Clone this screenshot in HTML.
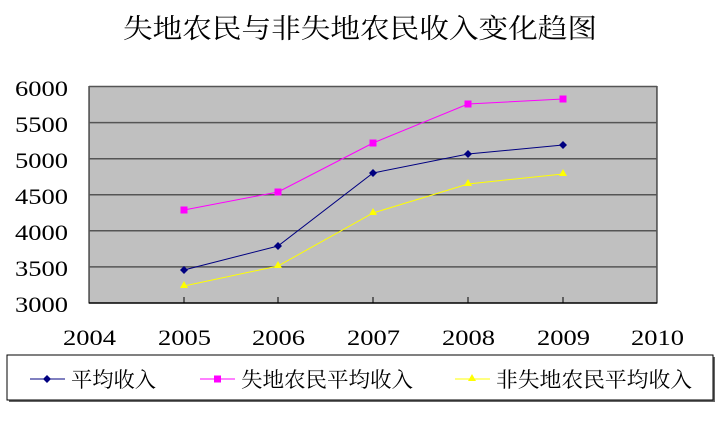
<!DOCTYPE html>
<html><head><meta charset="utf-8"><style>
body{margin:0;background:#fff;width:719px;height:417px;overflow:hidden}
text{font-family:"Liberation Serif","Noto Serif CJK SC",serif;fill:#000}
</style></head><body>
<svg width="719" height="417" xmlns="http://www.w3.org/2000/svg">
<text x="123" y="38" font-size="27" textLength="474" lengthAdjust="spacingAndGlyphs">失地农民与非失地农民收入变化趋图</text>
<rect x="89" y="86.5" width="568" height="216.5" fill="#c0c0c0" stroke="#000" stroke-width="1"/>
<g stroke="#555" stroke-width="1.5">
<line x1="89" x2="657" y1="86.5" y2="86.5"/>
<line x1="89" x2="657" y1="122.6" y2="122.6"/>
<line x1="89" x2="657" y1="158.7" y2="158.7"/>
<line x1="89" x2="657" y1="194.8" y2="194.8"/>
<line x1="89" x2="657" y1="230.8" y2="230.8"/>
<line x1="89" x2="657" y1="266.9" y2="266.9"/>
</g>
<line x1="89" x2="657" y1="303" y2="303" stroke="#000" stroke-width="1.5"/>
<g stroke="#000"><line x1="184" x2="184" y1="297" y2="303"/><line x1="278" x2="278" y1="297" y2="303"/><line x1="373" x2="373" y1="297" y2="303"/><line x1="468" x2="468" y1="297" y2="303"/><line x1="563" x2="563" y1="297" y2="303"/></g>
<g font-size="22">
<text x="15" y="96" textLength="53" lengthAdjust="spacingAndGlyphs">6000</text><text x="15" y="132" textLength="53" lengthAdjust="spacingAndGlyphs">5500</text><text x="15" y="168" textLength="53" lengthAdjust="spacingAndGlyphs">5000</text><text x="15" y="204" textLength="53" lengthAdjust="spacingAndGlyphs">4500</text><text x="15" y="240" textLength="53" lengthAdjust="spacingAndGlyphs">4000</text><text x="15" y="276" textLength="53" lengthAdjust="spacingAndGlyphs">3500</text><text x="15" y="312" textLength="53" lengthAdjust="spacingAndGlyphs">3000</text>
<text x="63" y="345" textLength="53" lengthAdjust="spacingAndGlyphs">2004</text><text x="158" y="345" textLength="53" lengthAdjust="spacingAndGlyphs">2005</text><text x="252" y="345" textLength="53" lengthAdjust="spacingAndGlyphs">2006</text><text x="347" y="345" textLength="53" lengthAdjust="spacingAndGlyphs">2007</text><text x="442" y="345" textLength="53" lengthAdjust="spacingAndGlyphs">2008</text><text x="537" y="345" textLength="53" lengthAdjust="spacingAndGlyphs">2009</text><text x="631" y="345" textLength="53" lengthAdjust="spacingAndGlyphs">2010</text>
</g>
<polyline fill="none" stroke="#ff00ff" points="184,210 278,192 373,143 468,104 563,99"/>
<polyline fill="none" stroke="#000080" points="184,270 278,246 373,173 468,154 563,145"/>
<polyline fill="none" stroke="#ffff00" points="184,286 278,266 373,213 468,184 563,174"/>
<g fill="#ff00ff"><rect x="180.5" y="206.5" width="7" height="7"/><rect x="274.5" y="188.5" width="7" height="7"/><rect x="369.5" y="139.5" width="7" height="7"/><rect x="464.5" y="100.5" width="7" height="7"/><rect x="559.5" y="95.5" width="7" height="7"/></g>
<g fill="#000080"><path d="M184,266l4,4-4,4-4-4z"/><path d="M278,242l4,4-4,4-4-4z"/><path d="M373,169l4,4-4,4-4-4z"/><path d="M468,150l4,4-4,4-4-4z"/><path d="M563,141l4,4-4,4-4-4z"/></g>
<g fill="#ffff00"><path d="M184,281l4,7h-8z"/><path d="M278,261l4,7h-8z"/><path d="M373,208l4,7h-8z"/><path d="M468,179l4,7h-8z"/><path d="M563,169l4,7h-8z"/></g>
<rect x="9" y="357" width="706" height="45" fill="#666"/>
<rect x="7" y="355" width="706" height="45" fill="#fff" stroke="#000"/>
<g font-size="21">
<line x1="30" x2="65" y1="379" y2="379" stroke="#000080"/><path d="M47,375l4,4-4,4-4-4z" fill="#000080"/>
<text x="71" y="387" textLength="85" lengthAdjust="spacingAndGlyphs">平均收入</text>
<line x1="200" x2="235" y1="379" y2="379" stroke="#ff00ff"/><rect x="214" y="375.5" width="7" height="7" fill="#ff00ff"/>
<text x="241" y="387" textLength="172" lengthAdjust="spacingAndGlyphs">失地农民平均收入</text>
<line x1="455" x2="490" y1="379" y2="379" stroke="#ffff00"/><path d="M472,374l4,7h-8z" fill="#ffff00"/>
<text x="496" y="387" textLength="196" lengthAdjust="spacingAndGlyphs">非失地农民平均收入</text>
</g>
</svg>
</body></html>
